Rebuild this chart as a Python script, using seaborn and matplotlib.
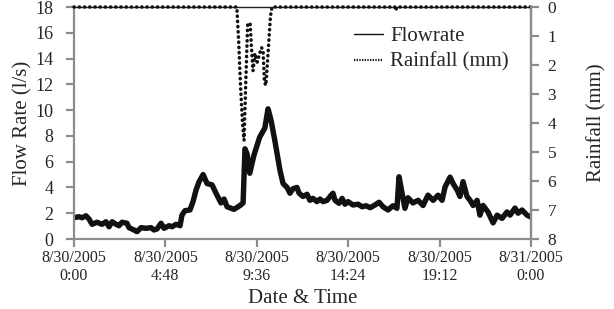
import pandas as pd
import matplotlib
matplotlib.use("Agg")
import matplotlib.pyplot as plt
from matplotlib.lines import Line2D
import seaborn as sns

# flow rate (l/s), time in hours from 8/30/2005 0:00
flow_hours = [0.00, 0.26, 0.42, 0.63, 0.79, 0.95, 1.21, 1.47, 1.68, 1.84, 2.00, 2.21,
              2.36, 2.52, 2.78, 2.89, 3.15, 3.31, 3.52, 3.78, 4.04, 4.20, 4.36, 4.57,
              4.73, 4.99, 5.15, 5.36, 5.57, 5.67, 5.83, 6.09, 6.25, 6.41, 6.57, 6.78,
              6.99, 7.25, 7.46, 7.72, 7.88, 8.04, 8.40, 8.72, 8.88, 8.98, 9.09, 9.23,
              9.45, 9.75, 10.02, 10.19, 10.35, 10.54, 10.82, 10.98, 11.19, 11.34, 11.50,
              11.71, 11.82, 12.03, 12.24, 12.39, 12.55, 12.76, 12.92, 13.08, 13.29,
              13.45, 13.60, 13.71, 13.92, 14.08, 14.23, 14.39, 14.65, 14.92, 15.13,
              15.34, 15.55, 15.81, 16.02, 16.23, 16.49, 16.75, 16.96, 17.07, 17.23,
              17.38, 17.54, 17.80, 18.07, 18.33, 18.59, 18.86, 19.12, 19.33, 19.49,
              19.75, 19.91, 20.12, 20.27, 20.43, 20.64, 20.80, 20.96, 21.17, 21.32,
              21.48, 21.74, 22.01, 22.22, 22.48, 22.74, 22.90, 23.16, 23.32, 23.53,
              23.79, 24.00]
flow_lps = [1.65, 1.73, 1.65, 1.8, 1.55, 1.14, 1.3, 1.14, 1.34, 0.95, 1.34, 1.14,
            1.03, 1.3, 1.22, 0.88, 0.7, 0.57, 0.88, 0.83, 0.88, 0.7, 0.78, 1.22,
            0.83, 1.03, 0.95, 1.14, 1.03, 1.86, 2.2, 2.25, 2.9, 3.8, 4.45, 5.0,
            4.3, 4.2, 3.55, 2.8, 3.1, 2.5, 2.3, 2.6, 2.8, 7.0, 6.6, 5.1,
            6.5, 7.9, 8.6, 10.1, 9.2, 7.7, 5.3, 4.3, 4.0, 3.55, 3.9,
            4.0, 3.55, 3.3, 3.47, 3.0, 3.15, 2.9, 3.1, 2.9, 3.0,
            3.3, 3.55, 3.0, 2.77, 3.15, 2.7, 2.9, 2.64, 2.7, 2.5,
            2.58, 2.43, 2.64, 2.85, 2.5, 2.25, 2.58, 2.38, 4.83, 3.55,
            2.38, 3.2, 2.8, 3.0, 2.6, 3.4, 3.0, 3.4, 3.0, 4.05,
            4.8, 4.3, 3.8, 3.3, 4.45, 3.3, 3.0, 2.6, 3.0, 1.85,
            2.6, 2.1, 1.25, 1.85, 1.6, 2.1, 1.85, 2.4, 2.0, 2.25,
            1.85, 1.7]

# rainfall (mm), plotted on the inverted right axis
rain_hours = [0.00, 8.55, 8.65, 8.75, 8.85, 8.93, 9.02, 9.12, 9.25, 9.32, 9.40, 9.50,
              9.62, 9.75, 9.85, 9.93, 10.00, 10.08, 10.15, 10.25, 10.32, 10.40,
              16.85, 16.90, 16.95, 24.00]
rain_mm = [0.0, 0.0, 1.2, 2.8, 4.0, 4.6, 2.6, 0.6, 0.55, 1.4, 2.2, 1.6,
           1.9, 1.6, 1.4, 1.5, 2.6, 2.7, 2.0, 1.0, 0.3, 0.0,
           0.0, 0.12, 0.0, 0.0]

tick_hours = [0, 4.8, 9.6, 14.4, 19.2, 24]
tick_labels = ["8/30/2005\n0:00", "8/30/2005\n4:48", "8/30/2005\n9:36",
               "8/30/2005\n14:24", "8/30/2005\n19:12", "8/31/2005\n0:00"]

sns.set_theme(style="white")
plt.rcParams['font.family'] = ['Liberation Serif', 'DejaVu Serif']

df_flow = pd.DataFrame({'hours': flow_hours, 'flow': flow_lps})
df_rain = pd.DataFrame({'hours': rain_hours, 'rain': rain_mm})

AXIS_GRAY = '#8c8c8c'

fig = plt.figure(figsize=(6.14, 3.09), dpi=100)
ax = fig.add_axes([74 / 614, 1 - 239 / 309, 457 / 614, 232 / 309])
ax2 = ax.twinx()

sns.lineplot(data=df_flow, x='hours', y='flow', ax=ax, color='#111111',
             linewidth=3.9, solid_joinstyle='round', solid_capstyle='round')
sns.lineplot(data=df_rain, x='hours', y='rain', ax=ax2, color='#111111',
             linewidth=2.5, linestyle=(0, (0.1, 1.4)), dash_capstyle='round',
             clip_on=False)

ax.set_xlim(0, 24)
ax.set_ylim(0, 18)
ax.set_yticks(range(0, 19, 2))
ax.set_xticks(tick_hours)
ax.set_xticklabels(tick_labels, fontsize=11.5, linespacing=1.15)
ax2.set_ylim(8, 0)
ax2.set_yticks(range(0, 9))

for a in (ax, ax2):
    for s in a.spines.values():
        s.set_color(AXIS_GRAY)
        s.set_linewidth(1.6)
ax.spines['top'].set_color('#222222')
ax.spines['top'].set_linewidth(1.0)
ax2.spines['top'].set_visible(False)
ax2.spines['left'].set_visible(False)
ax2.spines['bottom'].set_visible(False)

ax.tick_params(axis='y', direction='out', length=6, width=1.6, color=AXIS_GRAY,
               labelsize=13, pad=9, left=True)
ax.tick_params(axis='x', direction='out', length=6, width=1.6, color=AXIS_GRAY,
               pad=2, bottom=True)
ax2.tick_params(axis='y', direction='out', length=6, width=1.6, color=AXIS_GRAY,
                labelsize=12.5, pad=6, right=True)

ax.set_xlabel('Date & Time', fontsize=15)
ax.set_ylabel('Flow Rate (l/s)', fontsize=15)
ax2.set_ylabel('Rainfall (mm)', fontsize=15)
ax.xaxis.set_label_coords(0.5, -0.215)
ax.yaxis.set_label_coords(-0.09, 0.5)
ax2.yaxis.set_label_coords(1.1225, 0.5)

handles = [Line2D([], [], color='#111111', linewidth=1.0),
           Line2D([], [], color='#111111', linewidth=1.6, linestyle=(0, (0.6, 0.6)))]
ax2.legend(handles, ['Flowrate', 'Rainfall (mm)'], loc='upper right',
           bbox_to_anchor=(519 / 614, 1 - 16 / 309), bbox_transform=fig.transFigure,
           frameon=False, fontsize=15, borderpad=0, handlelength=1.4,
           handletextpad=0.35, labelspacing=0.3)

plt.savefig('out.png', dpi=100)
plt.close()
